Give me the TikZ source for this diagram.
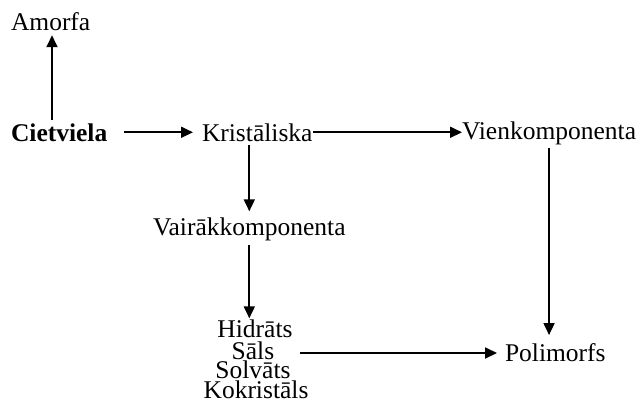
\documentclass[tikz,border=0pt]{standalone}
\usepackage{fontspec}
\setmainfont{Liberation Serif}
\usetikzlibrary{arrows.meta}
\begin{document}
\begin{tikzpicture}[x=1pt,y=-1pt,
  lbl/.style={inner sep=0pt,outer sep=0pt,font=\fontsize{25.5}{25.5}\selectfont},
  arr/.style={line width=1.8pt,-{Triangle[length=12pt,width=11pt]}}]
\useasboundingbox (0,0) rectangle (639,401);
\node[lbl,anchor=base west] (amorfa) at (11,31) {Amorfa};
\node[lbl,anchor=base west,font=\fontsize{25.5}{25.5}\selectfont\bfseries] (ciet) at (11,141) {Cietviela};
\node[lbl,anchor=base west] (kri) at (202,141) {Kristāliska};
\node[lbl,anchor=base west] (vien) at (462,139.5) {Vienkomponenta};
\node[lbl,anchor=base west] (vair) at (153,235) {Vairākkomponenta};
\node[lbl,anchor=base] (hid) at (255,337) {Hidrāts};
\node[lbl,anchor=base] (sals) at (253,359) {Sāls};
\node[lbl,anchor=base] (solv) at (253,378) {Solvāts};
\node[lbl,anchor=base] (kok) at (256,398) {Kokristāls};
\node[lbl,anchor=base west] (poli) at (505,361.5) {Polimorfs};
% connectors
\draw[arr] ([xshift=41pt,yshift=3.5pt]ciet.north west) -- ([xshift=41pt,yshift=-4pt]amorfa.south west);
\draw[arr] ([xshift=17pt]ciet.east) -- ([xshift=-9pt]kri.west);
\draw[arr] ([xshift=1pt]kri.east) -- (kri.east -| vien.west);
\draw[arr] ([yshift=-4pt]kri.south -| vair.north) -- ([yshift=6pt]vair.north);
\draw[arr] ([yshift=-4.5pt]vair.south) -- ([yshift=1pt]vair.south |- hid.north);
\draw[arr] ([yshift=-3pt]vien.south) -- ([yshift=8.5pt]vien.south |- poli.north);
\coordinate (sa) at ([xshift=26pt,yshift=6pt]sals.base east);
\draw[arr] (sa) -- ([xshift=-8pt]sa -| poli.west);
\end{tikzpicture}
\end{document}
